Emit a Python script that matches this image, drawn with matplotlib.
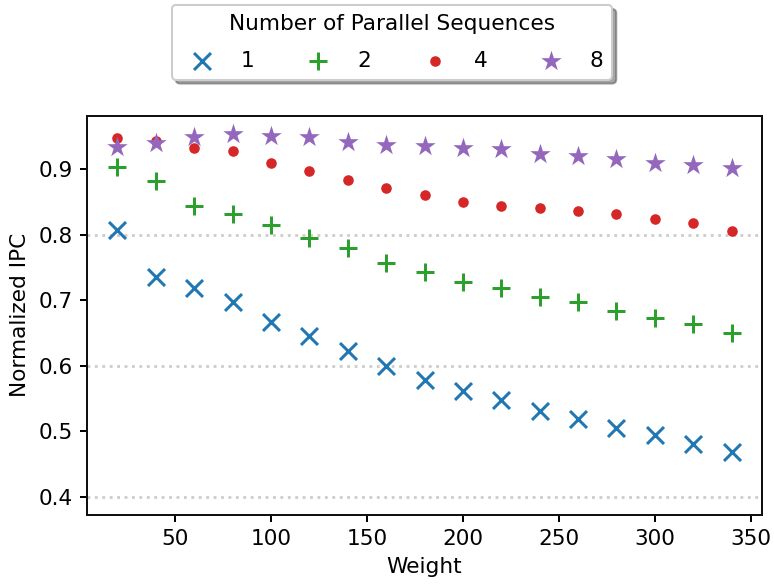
import matplotlib
matplotlib.use("Agg")
import matplotlib.pyplot as plt

weights = [20, 40, 60, 80, 100, 120, 140, 160, 180, 200, 220, 240, 260, 280, 300, 320, 340]
ipc_1 = [0.807, 0.735, 0.718, 0.697, 0.667, 0.645, 0.623, 0.599, 0.578, 0.561, 0.547, 0.530, 0.519, 0.505, 0.494, 0.481, 0.468]
ipc_2 = [0.9035, 0.882, 0.843, 0.832, 0.814, 0.795, 0.779, 0.757, 0.743, 0.728, 0.718, 0.705, 0.697, 0.684, 0.673, 0.663, 0.650]
ipc_4 = [0.948, 0.943, 0.932, 0.9275, 0.909, 0.897, 0.884, 0.871, 0.860, 0.850, 0.8435, 0.841, 0.836, 0.831, 0.8235, 0.817, 0.805]
ipc_8 = [0.934, 0.940, 0.9485, 0.9535, 0.951, 0.9485, 0.942, 0.937, 0.935, 0.9315, 0.930, 0.9225, 0.920, 0.915, 0.910, 0.9055, 0.901]
series_labels = ["1", "2", "4", "8"]
y_ticks = [0.4, 0.5, 0.6, 0.7, 0.8, 0.9]

FS = 10.8
dpi = 144
fig = plt.figure(figsize=(774 / dpi, 584 / dpi), dpi=dpi)
ax = fig.add_axes([0.112, 0.1187, 0.873, 0.6827])

ax.scatter(weights, ipc_1, marker="x", s=72, color="#1f77b4", linewidths=1.5, label=series_labels[0], zorder=3)
ax.scatter(weights, ipc_2, marker="+", s=85, color="#2ca02c", linewidths=1.5, label=series_labels[1], zorder=3)
ax.scatter(weights, ipc_4, marker="o", s=28, color="#d62728", linewidths=0, label=series_labels[2], zorder=3)
ax.scatter(weights, ipc_8, marker="*", s=115, color="#9467bd", linewidths=0, label=series_labels[3], zorder=3)

ax.set_ylim(0.3725, 0.981)
ax.set_yticks(y_ticks)
ax.set_yticklabels([f"{t:.1f}" for t in y_ticks])
ax.set_xticks([50, 100, 150, 200, 250, 300, 350])
ax.yaxis.grid(True, linestyle=":", color="#cccccc", linewidth=1.4, zorder=0)
ax.set_axisbelow(True)
for t, gl in zip(y_ticks, ax.yaxis.get_gridlines()):
    if round(t * 10) % 2 == 1:
        gl.set_visible(False)

ax.set_xlabel("Weight", fontsize=FS, labelpad=4)
ax.set_ylabel("Normalized IPC", fontsize=FS)
ax.tick_params(labelsize=FS, width=1.0)
for sp in ax.spines.values():
    sp.set_color("#111111")
    sp.set_linewidth(1.0)

leg = fig.legend(loc="upper center", bbox_to_anchor=(392 / 774, 1 - 5 / 584),
                 borderaxespad=0, labelspacing=0.8,
                 ncol=4, title="Number of Parallel Sequences", fontsize=FS,
                 title_fontsize=FS, shadow=True, fancybox=True,
                 columnspacing=1.95, scatterpoints=1, handletextpad=0.8)

fig.savefig("out.png", dpi=dpi)
